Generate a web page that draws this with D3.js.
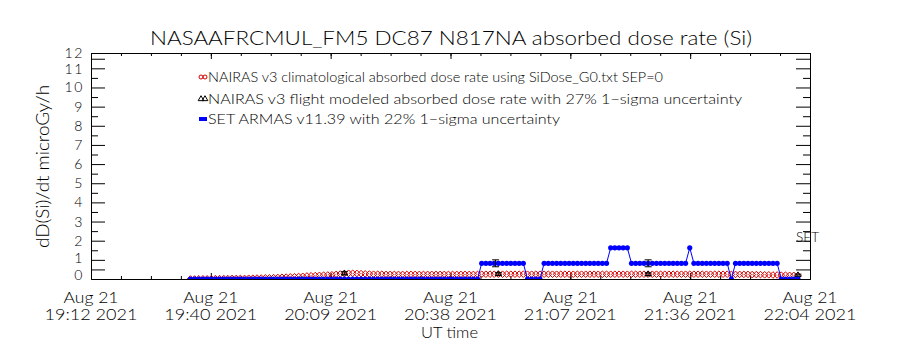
<!DOCTYPE html>
<html><head><meta charset="utf-8">
<script src="https://cdn.jsdelivr.net/npm/d3@7"></script>
<style>
body{margin:0;background:#fff;}
svg text{font-family:"Lato","Liberation Sans",Arial,sans-serif;font-weight:300;fill:#000;}
</style>
</head><body><svg id="c" width="900" height="350"></svg>
<script>
// ---------- data ----------
const title = "NASAAFRCMUL_FM5 DC87 N817NA absorbed dose rate (Si)";
const yLabel = "dD(Si)/dt microGy/h";
const xLabel = "UT time";
const legendLabels = [
  "NAIRAS v3 climatological absorbed dose rate using SiDose_G0.txt SEP=0",
  "NAIRAS v3 flight modeled absorbed dose rate with 27% 1\u2212sigma uncertainty",
  "SET ARMAS v11.39 with 22% 1\u2212sigma uncertainty"
];
const xDomain = ["2021-08-21T19:12:06Z", "2021-08-21T22:04:54Z"];
const xTickDate = "Aug 21";
const xTickTimes = ["19:12 2021","19:40 2021","20:09 2021","20:38 2021","21:07 2021","21:36 2021","22:04 2021"];
const yDomain = [0, 11.8];
const yMajorTicks = [0.5,1,2,3,4,5,6,7,8,9,10,11,11.5];
const yMajorLabels = ["0","1","2","3","4","5","6","7","8","9","10","11","12"];
const yMinorTicks = [1.5,2.5,3.5,4.5,5.5,6.5,7.5,8.5,9.5,10.5];
const seriesStart = "2021-08-21T19:36:00Z"; // 1-minute samples
const armasDose = [
  0,0,0,0,0,0,0,0,0,0, 0,0,0,0,0,0,0,0,0,0,
  0,0,0,0,0,0,0,0,0,0, 0,0,0,0,0,0,0,0,0,0,
  0,0,0,0,0,0,0,0,0,0, 0,0,0,0,0,0,0,0,0,0,
  0,0,0,0,0,0,0,0,0,0,
  0.82,0.82,0.82,0.82,0.82,0.82,0.82,0.82,0.82,0.82,0.82,
  0,0,0,0,
  0.82,0.82,0.82,0.82,0.82,0.82,0.82,0.82,0.82,0.82,0.82,0.82,0.82,0.82,0.82,0.82,
  1.63,1.63,1.63,1.63,1.63,
  0.82,0.82,0.82,0.82,0.82,0.82,0.82,0.82,0.82,0.82,0.82,0.82,0.82,0.82,
  1.63,
  0.82,0.82,0.82,0.82,0.82,0.82,0.82,0.82,0.82,
  0,
  0.82,0.82,0.82,0.82,0.82,0.82,0.82,0.82,0.82,0.82,0.82,
  0,0,0,0,0
];
const nairasClimDose = [
  0.00,0.00,0.01,0.01,0.01,0.01,0.02,0.02,0.02,0.02,
  0.03,0.03,0.03,0.03,0.04,0.04,0.05,0.05,0.06,0.06,
  0.07,0.08,0.09,0.10,0.11,0.12,0.13,0.14,0.16,0.17,
  0.18,0.19,0.20,0.21,0.22,0.24,0.26,0.28,0.30,0.30,
  0.29,0.28,0.27,0.26,0.25,0.25,0.25,0.24,0.24,0.24,
  0.24,0.24,0.24,0.24,0.24,0.24,0.24,0.24,0.24,0.24,
  0.24,0.24,0.24,0.24,0.24,0.24,0.24,0.24,0.24,0.24,
  0.25,0.25,0.25,0.25,0.25,0.25,0.25,0.25,0.25,0.25,
  0.25,0.25,0.25,0.25,0.25,0.25,0.25,0.25,0.25,0.25,
  0.25,0.25,0.25,0.25,0.25,0.25,0.25,0.25,0.25,0.25,
  0.25,0.25,0.25,0.25,0.25,0.25,0.25,0.25,0.25,0.25,
  0.25,0.25,0.25,0.25,0.25,0.25,0.25,0.25,0.25,0.25,
  0.25,0.25,0.25,0.25,0.25,0.25,0.25,0.25,0.25,0.25,
  0.24,0.24,0.24,0.24,0.24,0.23,0.23,0.23,0.22,0.22,
  0.21,0.21,0.20,0.20,0.19,0.19,0.18
];
const modelErrTimes = ["2021-08-21T20:13:00Z","2021-08-21T20:50:00Z","2021-08-21T21:26:00Z","2021-08-21T22:02:00Z"];
const modelErrDose = [0.30,0.26,0.25,0.20];
const modelErrFrac = 0.27;
const armasErrTimes = ["2021-08-21T20:49:20Z","2021-08-21T21:26:00Z"];
const armasErrDose = [0.82,0.82];
const armasErrFrac = 0.22;
const setLabel = "SET";

// ---------- drawing ----------
const svg = d3.select("#c");
const L=91, R=810, T=53, B=279;
const x = d3.scaleUtc().domain(xDomain.map(d=>new Date(d))).range([L,R]);
const y = d3.scaleLinear().domain(yDomain).range([B,T]);
const t0 = new Date(seriesStart).getTime();
const tAt = i => new Date(t0 + i*60000);

const blue="#0000ff", red="#d40000";

svg.append("clipPath").attr("id","clip").append("rect")
  .attr("x",L).attr("y",T-5).attr("width",R-L).attr("height",B-T+5);

// title
svg.append("text").attr("x",451).attr("y",45).attr("text-anchor","middle")
  .attr("font-size",20).attr("textLength",602).attr("lengthAdjust","spacingAndGlyphs").text(title);

// frame axes
const dom = x.domain();
const span = dom[1]-dom[0];
const xMinor = d3.range(25).map(k=>new Date(+dom[0]+span*k/24));
const xMajor = xMinor.filter((d,k)=>k%4===0);

function styleAxis(g){ g.select(".domain").attr("stroke","#000"); g.selectAll(".tick line").attr("stroke","#000"); g.selectAll("text").remove(); }

svg.append("g").attr("transform",`translate(0,${B})`).call(d3.axisBottom(x).tickValues(xMinor).tickSize(-3).tickSizeOuter(0)).call(styleAxis);
svg.append("g").attr("transform",`translate(0,${B})`).call(d3.axisBottom(x).tickValues(xMajor).tickSize(-6).tickSizeOuter(0)).call(styleAxis);
svg.append("g").attr("transform",`translate(0,${T})`).call(d3.axisTop(x).tickValues(xMinor).tickSize(-3).tickSizeOuter(0)).call(styleAxis);
svg.append("g").attr("transform",`translate(0,${T})`).call(d3.axisTop(x).tickValues(xMajor).tickSize(-6).tickSizeOuter(0)).call(styleAxis);

svg.append("g").attr("transform",`translate(${L},0)`).call(d3.axisLeft(y).tickValues(yMajorTicks).tickSize(-14).tickSizeOuter(0)).call(styleAxis);
svg.append("g").attr("transform",`translate(${L},0)`).call(d3.axisLeft(y).tickValues(yMinorTicks).tickSize(-7).tickSizeOuter(0)).call(styleAxis);
svg.append("g").attr("transform",`translate(${R},0)`).call(d3.axisRight(y).tickValues(yMajorTicks).tickSize(-14).tickSizeOuter(0)).call(styleAxis);
svg.append("g").attr("transform",`translate(${R},0)`).call(d3.axisRight(y).tickValues(yMinorTicks).tickSize(-7).tickSizeOuter(0)).call(styleAxis);

// y tick labels (crowded end labels spread slightly apart)
const yNudge = {"0":5.5, "1":-1.8, "11":1, "12":-6};
yMajorTicks.forEach((v,i)=>{
  const lab = yMajorLabels[i];
  svg.append("text").attr("x",84).attr("y",y(v)+(yNudge[lab]||0)+5)
    .attr("text-anchor","end").attr("font-size",14).attr("letter-spacing",1.6).text(lab);
});

// x tick labels (two lines each)
xMajor.forEach((d,i)=>{
  svg.append("text").attr("x",x(d)).attr("y",302.5).attr("text-anchor","middle").attr("font-size",15)
    .attr("textLength",55).attr("lengthAdjust","spacingAndGlyphs").text(xTickDate);
  svg.append("text").attr("x",x(d)).attr("y",320).attr("text-anchor","middle").attr("font-size",15)
    .attr("textLength",93).attr("lengthAdjust","spacingAndGlyphs").text(xTickTimes[i]);
});
svg.append("text").attr("x",449.5).attr("y",338).attr("text-anchor","middle").attr("font-size",16.5)
  .attr("textLength",57).attr("lengthAdjust","spacingAndGlyphs").text(xLabel);
svg.append("text").attr("transform","translate(49,166.5) rotate(-90)").attr("text-anchor","middle")
  .attr("font-size",17).attr("textLength",163).attr("lengthAdjust","spacingAndGlyphs").text(yLabel);

const plot = svg.append("g").attr("clip-path","url(#clip)");

// NAIRAS climatological (red open diamonds)
const diamond = "M0,-3.3L3.3,0L0,3.3L-3.3,0Z";
plot.selectAll("path.clim").data(nairasClimDose).join("path").attr("class","clim")
  .attr("d",diamond).attr("transform",(d,i)=>`translate(${x(tAt(i))},${y(d)})`)
  .attr("fill","none").attr("stroke",red).attr("stroke-width",1);

// NAIRAS modeled error bars (black)
const tri = d3.symbol().type(d3.symbolTriangle).size(14);
modelErrTimes.forEach((t,i)=>{
  const cx=x(new Date(t)), v=modelErrDose[i], lo=y(v*(1-modelErrFrac)), hi=y(v*(1+modelErrFrac));
  plot.append("line").attr("x1",cx).attr("x2",cx).attr("y1",lo).attr("y2",hi).attr("stroke","#000");
  [lo,hi].forEach(yy=>plot.append("line").attr("x1",cx-3.5).attr("x2",cx+3.5).attr("y1",yy).attr("y2",yy).attr("stroke","#000"));
  plot.append("path").attr("d",tri).attr("transform",`translate(${cx},${y(v)})`).attr("fill","none").attr("stroke","#000");
});

// ARMAS (blue line + filled markers)
const line = d3.line().x((d,i)=>x(tAt(i))).y(d=>y(d));
plot.append("path").datum(armasDose).attr("d",line).attr("fill","none").attr("stroke",blue).attr("stroke-width",1);
plot.selectAll("circle.armas").data(armasDose).join("circle").attr("class","armas")
  .attr("cx",(d,i)=>x(tAt(i))).attr("cy",d=>y(d)).attr("r",2.6).attr("fill",blue);

armasErrTimes.forEach((t,i)=>{
  const cx=x(new Date(t)), v=armasErrDose[i], lo=y(v*(1-armasErrFrac)), hi=y(v*(1+armasErrFrac));
  plot.append("line").attr("x1",cx).attr("x2",cx).attr("y1",lo).attr("y2",hi).attr("stroke","#000");
  [lo,hi].forEach(yy=>plot.append("line").attr("x1",cx-3.5).attr("x2",cx+3.5).attr("y1",yy).attr("y2",yy).attr("stroke","#000"));
});

svg.append("text").attr("x",796).attr("y",242).attr("font-size",14)
  .attr("textLength",23).attr("lengthAdjust","spacingAndGlyphs").text(setLabel);

// legend
const lg = svg.append("g");
const ly=[77,99,119];
const lw=[455,534,352];
legendLabels.forEach((s,i)=>{
  lg.append("text").attr("x",208).attr("y",ly[i]+5).attr("font-size",13.5)
    .attr("textLength",lw[i]).attr("lengthAdjust","spacingAndGlyphs").text(s);
});
[201,205].forEach(cx=>lg.append("circle").attr("cx",cx).attr("cy",ly[0]).attr("r",2).attr("fill","none").attr("stroke",red));
[201,205].forEach(cx=>lg.append("path").attr("d",tri).attr("transform",`translate(${cx},${ly[1]})`).attr("fill","none").attr("stroke","#000"));
lg.append("rect").attr("x",199).attr("y",ly[2]-2).attr("width",8).attr("height",4).attr("fill",blue);
</script></body></html>
